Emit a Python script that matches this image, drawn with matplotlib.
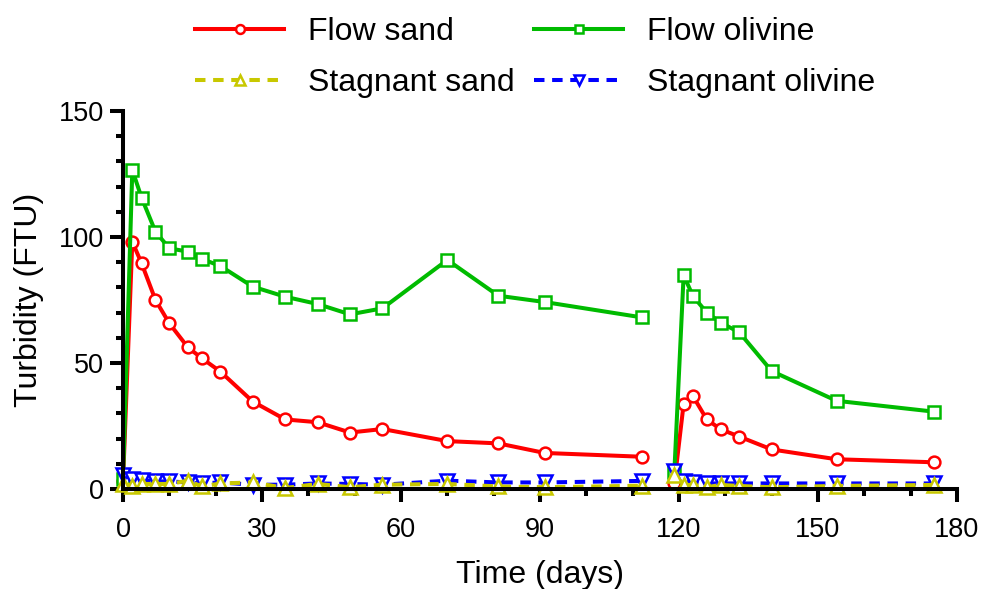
import matplotlib
matplotlib.use('Agg')
import matplotlib.pyplot as plt
from matplotlib.ticker import MultipleLocator

plt.rcParams['font.family'] = ['Liberation Sans', 'DejaVu Sans']

days = [0, 2, 4, 7, 10, 14, 17, 21, 28, 35, 42, 49, 56, 70, 81, 91, 112,
        119, 121, 123, 126, 129, 133, 140, 154, 175]

flow_sand = [3, 98.1, 89.6, 75, 65.7, 56.2, 51.9, 46.6, 34.7, 27.6, 26.5, 22.4, 23.8,
             19, 18.1, 14.3, 12.8,
             2.3, 33.7, 36.9, 27.6, 23.7, 20.8, 15.7, 11.8, 10.6]
flow_olivine = [4, 126.6, 115.6, 102.1, 95.5, 94.2, 91.3, 88.5, 80.3, 76.3, 73.4, 69.3, 71.7,
                90.9, 76.7, 74.2, 68.1,
                6.9, 84.9, 76.6, 70, 66, 62.2, 46.8, 35, 30.7]
stag_sand = [2, 1.3, 2, 2, 2, 3.3, 1, 2.2, 2.6, 0.4, 2, 0.7, 1.7,
             2, 1, 0.7, 1.3,
             5.6, 1.6, 1.6, 0.7, 1.6, 1.2, 0.7, 1.2, 1.6]
stag_olivine = [5.7, 4, 3.6, 3, 3, 2.6, 2.2, 2.6, 1.7, 1.7, 2.2, 2, 1.7,
                3.3, 2.6, 2.6, 3.2,
                7.1, 3.2, 2.9, 2.2, 2.2, 2.2, 2.2, 2.2, 2.2]

# split the two runs so the line breaks between day 112 and 119
seg1 = slice(0, 17)
seg2 = slice(17, None)

fig = plt.figure(figsize=(9.82, 5.89), dpi=100)
ax = fig.add_axes([0.1253, 0.1698, 0.8492, 0.6417])

lw = 2.9
dash = (0, (2.6, 1.9))
series = [
    ('Flow sand', flow_sand, '#ff0000', 'o', '-', 8.5),
    ('Flow olivine', flow_olivine, '#00bb00', 's', '-', 8.5),
    ('Stagnant olivine', stag_olivine, '#0000ff', 'v', dash, 10),
    ('Stagnant sand', stag_sand, '#c8c800', '^', dash, 10),
]
handles = {}
for name, vals, col, mk, ls, ms in series:
    for i, seg in enumerate([seg1, seg2]):
        ln, = ax.plot(days[seg], vals[seg], color=col, marker=mk, ls=ls, lw=lw,
                      ms=ms, mfc='white', mec=col, mew=1.8, clip_on=False,
                      label=name if i == 0 else None)
        if i == 0:
            handles[name] = ln

order = ['Flow sand', 'Stagnant sand', 'Flow olivine', 'Stagnant olivine']
fig.legend([handles[n] for n in order], order, ncol=2, loc='upper center',
           bbox_to_anchor=(0.545, 1.02), frameon=False, fontsize=23,
           handlelength=2.8, handletextpad=0.75, columnspacing=0.6,
           labelspacing=0.65, markerscale=0.75)

ax.set_xlim(0, 180)
ax.set_ylim(0, 150)
ax.xaxis.set_major_locator(MultipleLocator(30))
ax.xaxis.set_minor_locator(MultipleLocator(10))
ax.yaxis.set_major_locator(MultipleLocator(50))
ax.yaxis.set_minor_locator(MultipleLocator(10))

for s in ['top', 'right']:
    ax.spines[s].set_visible(False)
for s in ['left', 'bottom']:
    ax.spines[s].set_linewidth(2.9)
ax.tick_params(which='major', length=9.5, width=2.9, labelsize=19.5)
ax.tick_params(which='minor', length=4.8, width=2.9)
ax.tick_params(axis='x', which='major', pad=11)
ax.tick_params(axis='y', which='major', pad=4)

ax.set_xlabel('Time (days)', fontsize=23, labelpad=12)
ax.set_ylabel('Turbidity (FTU)', fontsize=23, labelpad=11)

plt.savefig('out.png', dpi=100)
